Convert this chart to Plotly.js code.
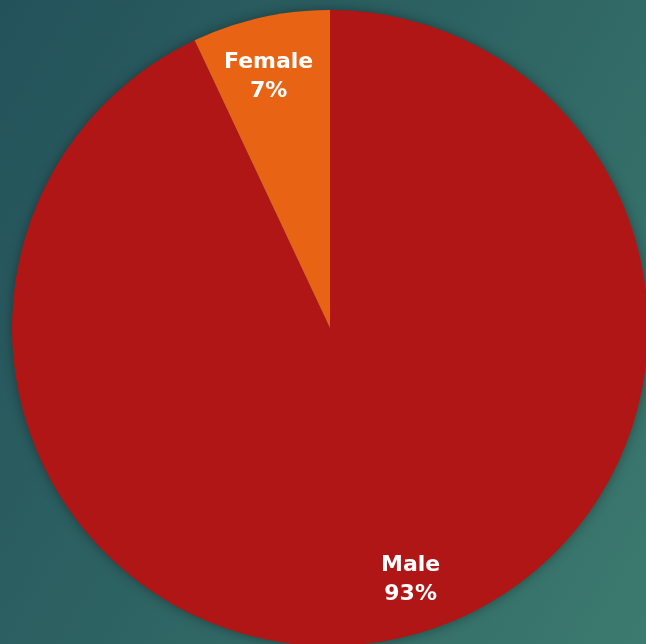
<!DOCTYPE html>
<html>
<head>
<meta charset="utf-8">
<script src="https://cdn.plot.ly/plotly-3.0.1.min.js"></script>
<style>
  html, body { margin:0; padding:0; width:646px; height:644px; overflow:hidden; }
  body { background: linear-gradient(120deg, #24525b 0%, #2d6262 45%, #3c7a6f 100%); position:relative; }
  #chart { position:absolute; left:12px; top:10px; width:636px; height:636px; filter: drop-shadow(0px 0px 6px rgba(0,0,0,0.35)); }
</style>
</head>
<body>
<div id="chart"></div>
<script>
const labels = ["Male", "Female"];
const values = [93, 7];
const colors = ["#B01615", "#E96314"];
const labelPos = [[0.626, 0.107], [0.404, 0.898]];

const total = values.reduce((a, b) => a + b, 0);
const annotations = labels.map((l, i) => ({
  text: l + "<br>" + Math.round(values[i] / total * 100) + "%",
  x: labelPos[i][0], y: labelPos[i][1], xref: "paper", yref: "paper",
  showarrow: false, xanchor: "center", yanchor: "middle",
  font: { family: "'DejaVu Sans', sans-serif", size: 22, color: "#ffffff", weight: "bold" }
}));

Plotly.newPlot("chart", [{
  type: "pie",
  labels: labels,
  values: values,
  sort: false,
  direction: "clockwise",
  rotation: 0,
  marker: { colors: colors, line: { width: 0 } },
  textinfo: "none",
  hoverinfo: "none"
}], {
  width: 636, height: 636,
  margin: { l: 0, r: 0, t: 0, b: 0 },
  showlegend: false,
  paper_bgcolor: "rgba(0,0,0,0)",
  plot_bgcolor: "rgba(0,0,0,0)",
  annotations: annotations
}, { displayModeBar: false, staticPlot: true });
</script>
</body>
</html>
